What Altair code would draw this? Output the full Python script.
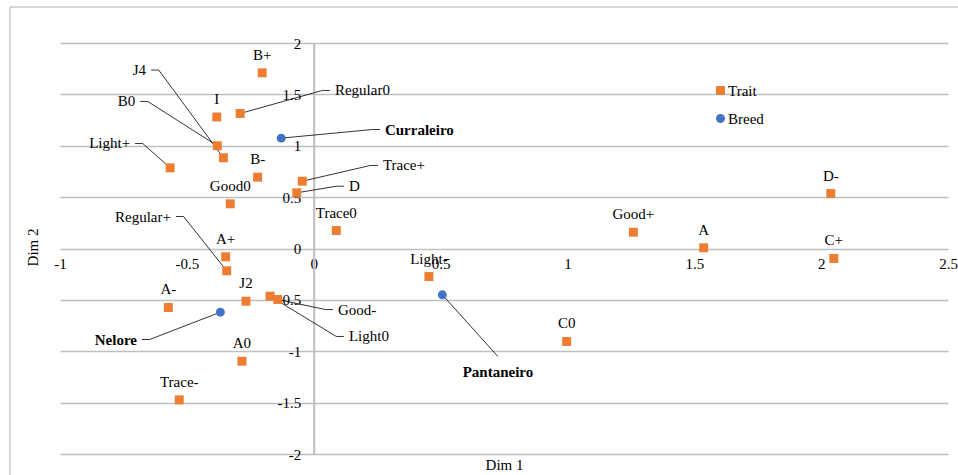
import altair as alt
import pandas as pd

# Trait categories (orange squares)
trait_names = ["B+", "Regular0", "I", "B0", "J4", "Light+", "B-", "Trace+", "D", "Good0",
               "Trace0", "Light-", "A+", "Regular+", "J2", "A-", "Light0", "Good-", "A0",
               "Trace-", "C0", "D-", "Good+", "A", "C+"]
trait_x = [-0.203, -0.290, -0.382, -0.380, -0.356, -0.566, -0.221, -0.045, -0.067, -0.329,
           0.089, 0.454, -0.347, -0.343, -0.267, -0.573, -0.172, -0.142, -0.283,
           -0.530, 0.997, 2.038, 1.260, 1.537, 2.050]
trait_y = [1.710, 1.314, 1.280, 1.000, 0.883, 0.785, 0.694, 0.655, 0.542, 0.435,
           0.175, -0.273, -0.081, -0.217, -0.513, -0.574, -0.464, -0.496, -1.097,
           -1.473, -0.905, 0.535, 0.159, 0.007, -0.097]

# Breeds (blue circles)
breed_names = ["Curraleiro", "Nelore", "Pantaneiro"]
breed_x = [-0.128, -0.368, 0.507]
breed_y = [1.074, -0.620, -0.451]

# Labels moved away from their point, joined by a leader line
callout_names = ["J4", "B0", "Light+", "Regular+", "Nelore",
                 "Regular0", "Curraleiro", "Trace+", "D", "Good-", "Light0",
                 "Pantaneiro"]
callout_x = [-0.641, -0.684, -0.704, -0.543, -0.677,
             0.064, 0.261, 0.253, 0.119, 0.076, 0.119,
             0.726]
callout_y = [1.737, 1.431, 1.022, 0.311, -0.886,
             1.538, 1.158, 0.808, 0.606, -0.594, -0.856,
             -1.051]
callout_side = ["left"] * 5 + ["right"] * 6 + ["below"]

FONT = "Liberation Serif"
ORANGE = "#ED7D31"
BLUE = "#4472C4"
GRID = "#BFBFBF"

points = pd.DataFrame({
    "name": trait_names + breed_names,
    "x": trait_x + breed_x,
    "y": trait_y + breed_y,
    "series": ["Trait"] * len(trait_names) + ["Breed"] * len(breed_names),
})
pos = {n: (x, y) for n, x, y in zip(points["name"], points["x"], points["y"])}

seg_rows, lab_rows = [], []
for n, ex, ey, side in zip(callout_names, callout_x, callout_y, callout_side):
    px, py = pos[n]
    seg_rows.append({"name": n, "k": 0, "x": px, "y": py})
    if side == "left":
        seg_rows.append({"name": n, "k": 1, "x": ex + 0.03, "y": ey})
    elif side == "right":
        seg_rows.append({"name": n, "k": 1, "x": ex - 0.03, "y": ey})
    seg_rows.append({"name": n, "k": 2, "x": ex, "y": ey})
    lab_rows.append({"name": n, "x": ex, "y": ey, "side": side,
                     "bold": n in breed_names})
segs = pd.DataFrame(seg_rows)
labs = pd.DataFrame(lab_rows)
above = points[~points["name"].isin(callout_names)]

xscale = alt.Scale(domain=[-1, 2.5], nice=False, zero=False)
yscale = alt.Scale(domain=[-2, 2], nice=False, zero=False)

xaxis = alt.Axis(
    orient="bottom", offset=-205.5, values=[-1, -0.5, 0, 0.5, 1, 1.5, 2, 2.5],
    labelExpr="datum.value + ''", domain=False, ticks=False, grid=False,
    labelFont=FONT, labelFontSize=15, labelColor="#000000", labelPadding=8,
    labelFlush=False, labelOverlap=False,
    title="Dim 1", titleFont=FONT, titleFontSize=15, titleFontWeight="normal",
    titleColor="#000000", titleX=444, titleY=221, titleBaseline="alphabetic",
    titleAlign="center",
)
yaxis = alt.Axis(
    orient="left", offset=-253.7, values=[-2, -1.5, -1, -0.5, 0, 0.5, 1, 1.5, 2],
    labelExpr="datum.value + ''", domain=True, domainColor=GRID, domainWidth=2,
    ticks=False, grid=True, gridColor=GRID, gridWidth=1.3,
    labelFont=FONT, labelFontSize=15, labelColor="#000000", labelPadding=13,
    labelFlush=False, labelOverlap=False,
    title="Dim 2", titleFont=FONT, titleFontSize=15, titleFontWeight="normal",
    titleColor="#000000", titleX=-276, titleY=204, titleAngle=270,
    titleBaseline="alphabetic", titleAlign="center",
)
X = alt.X("x:Q", scale=xscale, axis=xaxis)
Y = alt.Y("y:Q", scale=yscale, axis=yaxis)

# chart frame (top and left edges)
frame_top = alt.Chart(pd.DataFrame({"k": [0]})).mark_rule(color="#B0B0B0", strokeWidth=1).encode(
    x=alt.value(-50), x2=alt.value(900), y=alt.value(-36))
frame_left = alt.Chart(pd.DataFrame({"k": [0]})).mark_rule(color="#B0B0B0", strokeWidth=1).encode(
    x=alt.value(-50), y=alt.value(-36), y2=alt.value(440))

leaders = alt.Chart(segs).mark_line(color="#000000", strokeWidth=0.8).encode(
    x=X, y=Y, detail="name:N", order="k:Q")

marks = alt.Chart(points).mark_point(filled=True, size=80, opacity=1, strokeWidth=0).encode(
    x=X, y=Y,
    color=alt.Color("series:N", scale=alt.Scale(domain=["Trait", "Breed"], range=[ORANGE, BLUE]),
                    legend=alt.Legend(orient="none", legendX=651, legendY=40, title=None,
                                      labelFont=FONT, labelFontSize=15, labelColor="#000000",
                                      symbolSize=80, symbolStrokeWidth=0, symbolOpacity=1,
                                      symbolOffset=2, rowPadding=12, labelOffset=0, padding=0)),
    shape=alt.Shape("series:N", scale=alt.Scale(domain=["Trait", "Breed"], range=["square", "circle"]),
                    legend=None),
)

def text_layer(df, align, dx, dy, weight):
    return alt.Chart(df).mark_text(font=FONT, fontSize=15, color="#000000", align=align,
                                   baseline="alphabetic", dx=dx, dy=dy, fontWeight=weight).encode(
        x=X, y=Y, text="name:N")

above_text = text_layer(above, "center", 0, -13, "normal")
left_plain = text_layer(labs[(labs.side == "left") & (~labs.bold)], "right", -5, 5, "normal")
left_bold = text_layer(labs[(labs.side == "left") & (labs.bold)], "right", -5, 5, "bold")
right_plain = text_layer(labs[(labs.side == "right") & (~labs.bold)], "left", 5, 5, "normal")
right_bold = text_layer(labs[(labs.side == "right") & (labs.bold)], "left", 5, 5, "bold")
below_bold = text_layer(labs[labs.side == "below"], "center", 0, 21, "bold")

chart = alt.layer(
    frame_top, frame_left, leaders, marks, above_text,
    left_plain, left_bold, right_plain, right_bold, below_bold,
).properties(
    width=888, height=411,
    autosize=alt.AutoSizeParams(type="none"),
    padding={"left": 60, "top": 43, "right": 10, "bottom": 21},
    background="#FFFFFF",
).configure_view(stroke=None)

chart.save("out.html", embed_options={"renderer": "svg", "actions": False})
